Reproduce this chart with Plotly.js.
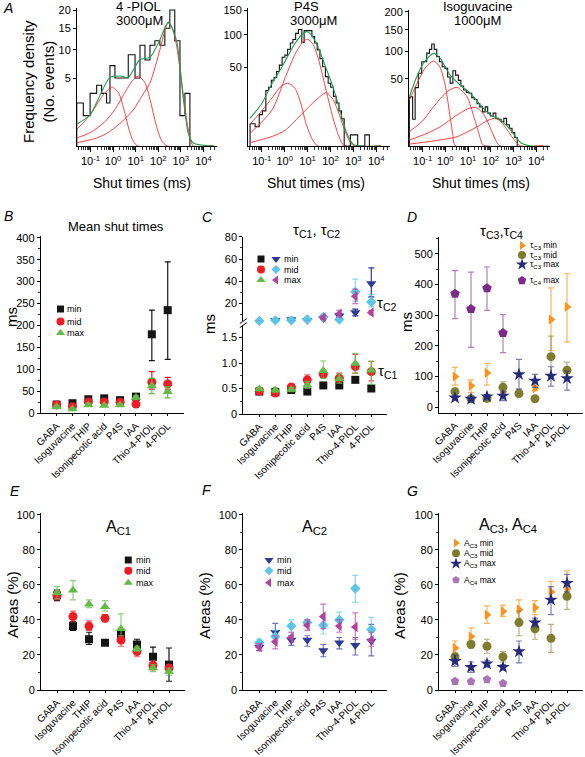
<!DOCTYPE html>
<html><head><meta charset="utf-8">
<script src="https://cdn.plot.ly/plotly-3.0.1.min.js"></script>
<style>html,body{margin:0;padding:0;background:#fff}#chart{width:585px;height:757px}</style>
</head><body><div id="chart"></div>
<script>
// ================= DATA =================
const cats = ['GABA','Isoguvacine','THIP','Isonipecotic acid','P4S','IAA','Thio-4-PIOL','4-PIOL'];

// ---- Panel A histograms: bin edges (log10 ms) and frequency densities ----
const piolEdges = [-1.61,-1.32,-1.02,-0.73,-0.51,-0.29,-0.14,0.08,0.67,0.97,1.19,1.41,1.63,1.85,2.07,2.29,2.51,2.73,2.96,3.18,3.40];
const piolCounts = [2,1,3,4,3,2,7,5,9,5,11,8,11,12,11,15,20,12,1,3];
const p4sEdges = [-1.51,-1.29,-1.11,-0.97,-0.82,-0.70,-0.58,-0.46,-0.35,-0.23,-0.11,0.01,0.13,0.25,0.36,0.48,0.60,0.75,0.85,1.00,1.19,1.31,1.42,1.54,1.66,1.78,1.90,2.01,2.13,2.25,2.37,2.48,2.60,2.87,3.19,3.50,3.70];
const p4sCounts = [4,3,8,10,25,28,35,38,45,53,64,67,76,86,92,103,110,87,108,108,97,86,75,62,51,39,32,28,20,15,10,6,0,1,0,1];
const isoEdges = [-1.585,-1.44,-1.33,-1.19,-1.04,-0.94,-0.82,-0.70,-0.60,-0.49,-0.38,-0.26,-0.14,-0.02,0.10,0.21,0.33,0.45,0.57,0.68,0.80,0.92,1.04,1.16,1.27,1.39,1.51,1.63,1.75,1.86,1.98,2.10,2.22,2.34,2.45,2.57,2.69,2.81,2.93,3.05,3.16];
const isoCounts = [27,8,38,59,79,79,96,104,116,104,89,79,70,67,53,44,63,56,48,40,35,32,31,26,24,20,17,13,17,12,10,12,8.5,8,6.6,8.5,5,3.5,2,0.8];

// ---- Panel A fitted curves: [log10 ms, density] ----
const piolFitC1 = [[-1.61,0.30],[-1.2,0.75],[-0.8,1.6],[-0.45,2.8],[-0.06,3.75],[0.25,3.0],[0.5,1.3],[0.72,0.25],[0.9,0.02],[1.1,0],[4.45,0]];
const piolFitC2 = [[-1.61,0.07],[-1.0,0.2],[-0.4,0.6],[0.1,1.5],[0.5,3.0],[0.85,4.6],[1.11,5.3],[1.4,4.4],[1.65,2.2],[1.9,0.5],[2.15,0.03],[2.4,0],[4.45,0]];
const piolFitC3 = [[-1.61,0.012],[-0.8,0.06],[-0.29,0.17],[0.3,0.55],[0.89,1.4],[1.3,2.8],[1.63,4.3],[2.07,10.0],[2.3,14.6],[2.44,16.4],[2.6,15.3],[2.8,11.2],[3.1,3.0],[3.33,0.3],[3.55,0],[4.45,0]];
const piolFitSum = [[-1.61,0.52],[-1.02,1.04],[-0.58,2.8],[-0.14,5.1],[0.31,5.3],[0.67,5.1],[1.19,8.1],[1.63,8.5],[2.07,12.2],[2.44,16.6],[2.8,12.2],[3.1,2.6],[3.33,0.17],[3.55,0.01],[4.45,0]];

const p4sFitC1 = [[-1.51,3.9],[-1.0,10],[-0.5,20],[-0.2,28],[0.13,32],[0.45,27],[0.7,15],[0.93,4.2],[1.2,0.4],[1.45,0],[4.2,0]];
const p4sFitC2 = [[-1.51,1.3],[-0.55,10.5],[0.04,39],[0.48,70],[0.8,88],[1.0,92.4],[1.22,85],[1.47,62],[1.66,40],[1.9,18],[2.15,5],[2.4,0.5],[2.6,0],[4.2,0]];
const p4sFitC3 = [[-1.51,0.09],[-0.5,0.8],[0.04,2.1],[0.78,8.7],[1.37,17.2],[1.81,23],[2.1,18],[2.3,11],[2.5,4.5],[2.7,1.0],[2.9,0.05],[3.05,0],[4.2,0]];
const p4sFitSum = [[-1.51,6.2],[-0.99,14.8],[-0.55,31.9],[-0.11,51],[0.41,82.8],[0.78,101.8],[1.0,106],[1.22,97],[1.51,74.8],[1.81,49],[2.1,29],[2.4,11],[2.69,1.66],[2.99,0.03],[3.2,0],[4.2,0]];

const isoFitC1 = [[-1.585,23.5],[-1.2,47],[-0.85,70],[-0.52,80.4],[-0.25,70],[0.0,40],[0.1,23.5],[0.32,1.8],[0.45,0],[4.3,0]];
const isoFitC2 = [[-1.585,2.3],[-1.0,7],[-0.52,17.2],[0.07,32.8],[0.51,38.3],[0.95,27],[1.25,9.6],[1.47,1.8],[1.63,0.03],[1.8,0],[4.3,0]];
const isoFitC3 = [[-1.585,0.4],[-0.8,1.8],[-0.23,4.1],[0.51,10.7],[1.0,15.5],[1.33,16.7],[1.65,12],[1.92,4.9],[2.21,0.4],[2.4,0],[4.3,0]];
const isoFitC4 = [[-1.585,0.04],[-0.5,0.3],[0.51,0.96],[1.39,4.1],[1.85,7.2],[2.17,8.5],[2.45,6.5],[2.72,2.85],[3.09,0.2],[3.31,0],[4.3,0]];
const isoFitSum = [[-1.585,27],[-1.26,53.4],[-0.97,76],[-0.52,95.6],[-0.23,85.6],[0.21,56],[0.65,41.4],[1.10,30.9],[1.54,18.7],[1.98,10.7],[2.42,7.5],[2.87,2.85],[3.31,0.12],[3.75,0],[4.55,0]];

const histDecades = [0.1,1,10,100,1000,10000];
const histDecadeText = ['10<sup>-1</sup>','10<sup>0</sup>','10<sup>1</sup>','10<sup>2</sup>','10<sup>3</sup>','10<sup>4</sup>'];
const piolYTicks = [5,10,15,20];
const p4sYTicks = [50,100,150];
const isoYTicks = [50,100,150,200];

// ---- Panel B: mean shut times (ms) ----
const bMin = [20,23,32,34,30,38,180,235];
const bMinHi = [22,26,36,38,33,42,235,345];
const bMinLo = [18,20,28,30,27,34,120,123];
const bMid = [19,15,26,26,25,21,71,67];
const bMidHi = [21,17,29,29,28,24,95,82];
const bMidLo = [17,13,23,23,22,18,55,55];
const bMax = [15,10,19,18,19,36,63,49];
const bMaxHi = [17,12,22,21,22,40,80,60];
const bMaxLo = [13,8,16,15,16,32,45,35];

// ---- Panel C: tauC1 (ms) ----
const c1Min = [0.44,0.43,0.47,0.44,0.56,0.56,0.67,0.50];
const c1MinHi = [0.47,0.46,0.50,0.47,0.59,0.59,0.71,0.54];
const c1MinLo = [0.41,0.40,0.44,0.41,0.53,0.53,0.63,0.46];
const c1Mid = [0.45,0.41,0.53,0.67,0.78,0.70,0.93,0.83];
const c1MidHi = [0.48,0.44,0.58,0.77,0.86,0.80,1.17,1.03];
const c1MidLo = [0.42,0.38,0.49,0.60,0.72,0.62,0.80,0.65];
const c1Max = [0.49,0.47,0.48,0.57,0.85,0.69,0.99,0.86];
const c1MaxHi = [0.52,0.52,0.52,0.64,1.04,0.78,1.19,1.03];
const c1MaxLo = [0.46,0.42,0.44,0.50,0.70,0.60,0.80,0.58];
// ---- Panel C: tauC2 (ms) ----
const c2Min = [4,5,5.7,5,6.6,9,12,38];
const c2MinHi = [5,6,7,6,8,11,15,52];
const c2MinLo = [3,4,4.5,4,5.5,7,9,26];
const c2Mid = [4.5,5,5,5.7,8,5.7,30.5,21.5];
const c2MidHi = [5.5,6,6,7,9.5,7,42,28];
const c2MidLo = [3.5,4,4,4.5,6.5,4.5,22,17];
const c2Max = [3,2.5,3,3,7.5,11,26.5,12];
const c2MaxHi = [4,3.5,4,4,9,14,33,14];
const c2MaxLo = [2,1.5,2,2,6,8,20,10];

// ---- Panel D: tauC3, tauC4 (ms) ----
const dC3Min = [100,70,112,51,45,62,286,327];
const dC3MinHi = [130,89,143,60,52,70,389,435];
const dC3MinLo = [72,48,72,42,38,54,185,213];
const dC3Mid = [51,28,29,65,45,28,165,121];
const dC3MidHi = [62,34,35,83,52,34,232,147];
const dC3MidLo = [42,22,24,47,38,22,100,95];
const dC3Max = [31,27,35,37,107,86,102,94];
const dC3MaxHi = [37,32,41,50,156,107,132,118];
const dC3MaxLo = [25,22,29,22,60,65,69,56];
const dC4Cats = ['GABA','Isoguvacine','THIP','Isonipecotic acid'];
const dC4Max = [370,320,388,242];
const dC4MaxHi = [445,440,457,302];
const dC4MaxLo = [289,195,316,178];

// ---- Panel E: AC1 (%) ----
const eMin = [54,36.5,29,27,31.5,26,19,14.5];
const eMinHi = [57,39,33,28.5,34,29,24.5,24];
const eMinLo = [51,34,26,25.5,29,23.5,14,5];
const eMid = [54,42,36.5,41,28.5,22,14,12.5];
const eMidHi = [56.5,45,39.5,43,31,24.5,16.5,14.5];
const eMidLo = [51.5,39,34,39,25,19,11.5,10.5];
const eMax = [55.5,57,49,47.5,35,23.5,12.5,10.5];
const eMaxHi = [59,62.5,51.5,51,43.5,25,14.5,12.5];
const eMaxLo = [52,51.5,47,45,31,22,10.5,8.5];

// ---- Panel F: AC2 (%) ----
const fMin = [24.5,33,28.5,28.5,22.5,27,25.5,28];
const fMinHi = [26.5,38,31,31,26,30,30,37.5];
const fMinLo = [22.5,28,25.5,25,19,23.5,20,19.5];
const fMid = [27,30.5,36.5,38.5,37,40,58,34.5];
const fMidHi = [29,34,40,40,41,44.5,65.5,41.5];
const fMidLo = [25,27,33,36.5,32,36,50,29];
const fMax = [24.5,27.5,30,37,42,36.5,36,28.5];
const fMaxHi = [26.5,31,33,40,49,40,44,33];
const fMaxLo = [22.5,23.5,27,34,35,33,29,25];

// ---- Panel G: AC3, AC4 (%) ----
const gC3Min = [24,30.5,43,45,46,47,56,57.5];
const gC3MinHi = [28,35.5,48,48.5,51.5,51,62,68];
const gC3MinLo = [21,27,38,42,41,43,52,54];
const gC3Mid = [19,26,25,19,38.5,35,29.5,53.5];
const gC3MidHi = [21,28,29,22,45,40,37.5,61];
const gC3MidLo = [16,24,21,16,31,29,21.5,46];
const gC3Max = [16.5,13,15,13,22,38.5,51.5,61];
const gC3MaxHi = [20,16,17,14.5,28,41,59,66];
const gC3MaxLo = [13.5,10,13,11.5,15.5,36,43,56];
const gC4Cats = ['GABA','Isoguvacine','THIP','Isonipecotic acid'];
const gC4Max = [5,4.8,6,3.8];

// ================= STYLE / LAYOUT =================
const W = 585, H = 757;
const dx = (a,b) => [a/W, b/W];
const dy = (t,b) => [1-b/H, 1-t/H];
const FONT = 'Liberation Sans, Arial, Helvetica, sans-serif';
const COL = {black:'#151515', red:'#ee1c25', green:'#63bb47', blue:'#2d3b96', cyan:'#5cc6e6', pink:'#b3429d',
  orange:'#f7931e', olive:'#7e7d2d', navy:'#252b7a', purple:'#7d2b8b', lpurple:'#aa74b4'};
function fade(hex, a){const n=parseInt(hex.slice(1),16);return 'rgba('+(n>>16&255)+','+(n>>8&255)+','+(n&255)+','+a+')';}

const minorVals = [];
for (let k=-2;k<=4;k++) for (let m=2;m<=9;m++) minorVals.push(m*Math.pow(10,k));

const axisBase = {showline:true, linecolor:'#000', linewidth:1, ticks:'outside', tickcolor:'#000', tickwidth:1,
  showgrid:false, zeroline:false, tickfont:{size:11, color:'#000', family:FONT}, fixedrange:true};
function histX(d, anchor){return Object.assign({}, axisBase, {type:'log', domain:dx(d[0],d[1]), anchor, range:[-1.6,4.6],
  ticklen:5, tickmode:'array', tickvals:histDecades, ticktext:histDecadeText,
  minor:{ticks:'outside', ticklen:3, tickwidth:0.8, tickcolor:'#000', tickmode:'array', tickvals:minorVals, showgrid:false}});}
function histY(d, anchor, top, vals){return Object.assign({}, axisBase, {domain:dy(d[0],d[1]), anchor, range:[0,top],
  ticklen:3, tickmode:'array', tickvals:vals.map(Math.sqrt), ticktext:vals.map(String)});}
function catX(d, anchor){return Object.assign({}, axisBase, {type:'category', categoryorder:'array', categoryarray:cats,
  domain:dx(d[0],d[1]), anchor, range:[-1,8], ticklen:2, tickangle:-45, tickfont:{size:10, color:'#000', family:FONT}});}
function valY(d, anchor, range, dtick, extra){return Object.assign({}, axisBase, {domain:dy(d[0],d[1]), anchor, range,
  ticklen:3, tick0:0, dtick, minor:{ticks:'outside', ticklen:2, tickwidth:0.8, tickcolor:'#000', tick0:0, dtick:dtick/2, showgrid:false}}, extra||{});}

// ================= TRACES =================
const traces = [];
function stepTrace(edges, counts, xa, ya){
  const x=[], y=[];
  x.push(Math.pow(10,edges[0])); y.push(0);
  counts.forEach((c,i)=>{ x.push(Math.pow(10,edges[i])); y.push(Math.sqrt(c)); x.push(Math.pow(10,edges[i+1])); y.push(Math.sqrt(c)); });
  x.push(Math.pow(10,edges[edges.length-1])); y.push(0);
  return {type:'scatter', mode:'lines', x, y, xaxis:xa, yaxis:ya, line:{color:'#111', width:1.1}, hoverinfo:'skip', showlegend:false};
}
function fitTrace(pairs, xa, ya, color, w){
  return {type:'scatter', mode:'lines', x:pairs.map(p=>Math.pow(10,p[0])), y:pairs.map(p=>Math.sqrt(p[1])), xaxis:xa, yaxis:ya,
    line:{color, width:w, shape:'spline', smoothing:0.7}, hoverinfo:'skip', showlegend:false};
}
function pts(xa, ya, xs, v, hi, lo, symbol, color, size, errColor){
  const t = {type:'scatter', mode:'markers', x:xs, y:v, xaxis:xa, yaxis:ya, cliponaxis:false,
    marker:{symbol, color, size, line:{width:0}}, hoverinfo:'skip', showlegend:false};
  if (hi) t.error_y = {type:'data', symmetric:false, array:hi.map((h,i)=>h-v[i]), arrayminus:lo.map((l,i)=>v[i]-l),
    color:errColor||color, thickness:1.2, width:3};
  return t;
}

// Panel A
const RED='#ff2a2a', GRN='#1e9e50';
traces.push(stepTrace(piolEdges, piolCounts, 'x', 'y'));
[piolFitC1,piolFitC2,piolFitC3].forEach(c=>traces.push(fitTrace(c,'x','y',RED,0.9)));
traces.push(fitTrace(piolFitSum,'x','y',GRN,1.1));
traces.push(stepTrace(p4sEdges, p4sCounts, 'x2', 'y2'));
[p4sFitC1,p4sFitC2,p4sFitC3].forEach(c=>traces.push(fitTrace(c,'x2','y2',RED,0.9)));
traces.push(fitTrace(p4sFitSum,'x2','y2',GRN,1.1));
traces.push(stepTrace(isoEdges, isoCounts, 'x3', 'y3'));
[isoFitC1,isoFitC2,isoFitC3,isoFitC4].forEach(c=>traces.push(fitTrace(c,'x3','y3',RED,0.9)));
traces.push(fitTrace(isoFitSum,'x3','y3',GRN,1.1));

// Panel B
traces.push(pts('x4','y4',cats,bMin,bMinHi,bMinLo,'square',COL.black,8));
traces.push(pts('x4','y4',cats,bMid,bMidHi,bMidLo,'circle',COL.red,9));
traces.push(pts('x4','y4',cats,bMax,bMaxHi,bMaxLo,'triangle-up',COL.green,9));
// Panel C
traces.push(pts('x5','y5',cats,c1Min,c1MinHi,c1MinLo,'square',COL.black,8));
traces.push(pts('x5','y5',cats,c1Mid,c1MidHi,c1MidLo,'circle',COL.red,9, fade(COL.red,0.7)));
traces.push(pts('x5','y5',cats,c1Max,c1MaxHi,c1MaxLo,'triangle-up',COL.green,9, fade(COL.green,0.7)));
traces.push(pts('x5','y6',cats,c2Min,c2MinHi,c2MinLo,'triangle-down',COL.blue,9));
traces.push(pts('x5','y6',cats,c2Mid,c2MidHi,c2MidLo,'diamond',COL.cyan,8, fade(COL.cyan,0.7)));
traces.push(pts('x5','y6',cats,c2Max,c2MaxHi,c2MaxLo,'triangle-left',COL.pink,9, fade(COL.pink,0.7)));
// Panel D
traces.push(pts('x6','y7',dC4Cats,dC4Max,dC4MaxHi,dC4MaxLo,'pentagon',COL.purple,10, fade(COL.purple,0.6)));
traces.push(pts('x6','y7',cats,dC3Min,dC3MinHi,dC3MinLo,'triangle-right',COL.orange,9, fade(COL.orange,0.7)));
traces.push(pts('x6','y7',cats,dC3Mid,dC3MidHi,dC3MidLo,'circle',COL.olive,9, fade(COL.olive,0.6)));
traces.push(pts('x6','y7',cats,dC3Max,dC3MaxHi,dC3MaxLo,'star',COL.navy,10, fade(COL.navy,0.6)));
// Panel E
traces.push(pts('x7','y8',cats,eMin,eMinHi,eMinLo,'square',COL.black,8));
traces.push(pts('x7','y8',cats,eMid,eMidHi,eMidLo,'circle',COL.red,9, fade(COL.red,0.7)));
traces.push(pts('x7','y8',cats,eMax,eMaxHi,eMaxLo,'triangle-up',COL.green,9, fade(COL.green,0.7)));
// Panel F
traces.push(pts('x8','y9',cats,fMin,fMinHi,fMinLo,'triangle-down',COL.blue,9, fade(COL.blue,0.7)));
traces.push(pts('x8','y9',cats,fMid,fMidHi,fMidLo,'diamond',COL.cyan,8, fade(COL.cyan,0.7)));
traces.push(pts('x8','y9',cats,fMax,fMaxHi,fMaxLo,'triangle-left',COL.pink,9, fade(COL.pink,0.7)));
// Panel G
traces.push(pts('x9','y10',cats,gC3Min,gC3MinHi,gC3MinLo,'triangle-right',COL.orange,9, fade(COL.orange,0.7)));
traces.push(pts('x9','y10',cats,gC3Mid,gC3MidHi,gC3MidLo,'circle',COL.olive,9, fade(COL.olive,0.6)));
traces.push(pts('x9','y10',cats,gC3Max,gC3MaxHi,gC3MaxLo,'star',COL.navy,10, fade(COL.navy,0.6)));
traces.push(pts('x9','y10',gC4Cats,gC4Max,null,null,'pentagon',COL.lpurple,9));

// Legend keys (overlay in page-pixel coordinates)
const annotations = [];
function key(x,y,symbol,color,size){traces.push({type:'scatter', mode:'markers', x:[x], y:[y], xaxis:'x10', yaxis:'y11',
  cliponaxis:false, marker:{symbol,color,size,line:{width:0}}, hoverinfo:'skip', showlegend:false});}
function txt(x,y,text,size,opts){annotations.push(Object.assign({xref:'x10', yref:'y11', x, y, text, showarrow:false,
  xanchor:'center', yanchor:'middle', borderpad:0, font:{size, color:'#000', family:FONT}}, opts||{}));}
const LF = 9, DF = 8.5;
// B
key(60.5,309,'square',COL.black,7); key(60.5,321.5,'circle',COL.red,8); key(60.5,333,'triangle-up',COL.green,8);
txt(66,309,'min',LF,{xanchor:'left'}); txt(66,321.5,'mid',LF,{xanchor:'left'}); txt(66,333,'max',LF,{xanchor:'left'});
// C
key(261,259,'square',COL.black,7); key(276,259,'triangle-down',COL.blue,8); txt(283,259,'min',LF,{xanchor:'left'});
key(261,269.5,'circle',COL.red,8); key(276,269.5,'diamond',COL.cyan,7); txt(283,269.5,'mid',LF,{xanchor:'left'});
key(261,280,'triangle-up',COL.green,8); key(276,280,'triangle-left',COL.pink,8); txt(283,280,'max',LF,{xanchor:'left'});
// D
key(522,245.5,'triangle-right',COL.orange,8); key(522,255,'circle',COL.olive,8); key(522,264.5,'star',COL.navy,9); key(522,280.5,'pentagon',COL.purple,9);
txt(528.5,245.5,'τ<sub>C3</sub> min',DF,{xanchor:'left'}); txt(528.5,255,'τ<sub>C3</sub> mid',DF,{xanchor:'left'});
txt(528.5,264.5,'τ<sub>C3</sub> max',DF,{xanchor:'left'}); txt(528.5,280.5,'τ<sub>C4</sub> max',DF,{xanchor:'left'});
// E
key(128.3,560,'square',COL.black,7); key(128.3,570.7,'circle',COL.red,8); key(128.3,582.7,'triangle-up',COL.green,8);
txt(135,560,'min',LF,{xanchor:'left'}); txt(135,570.7,'mid',LF,{xanchor:'left'}); txt(135,582.7,'max',LF,{xanchor:'left'});
// F
key(269,560,'triangle-down',COL.blue,8); key(269,570.7,'diamond',COL.cyan,7); key(269,582.7,'triangle-left',COL.pink,8);
txt(275.5,560,'min',LF,{xanchor:'left'}); txt(275.5,570.7,'mid',LF,{xanchor:'left'}); txt(275.5,582.7,'max',LF,{xanchor:'left'});
// G
key(456,543,'triangle-right',COL.orange,8); key(456,553.3,'circle',COL.olive,8); key(456,563.6,'star',COL.navy,9); key(456,580,'pentagon',COL.lpurple,8);
txt(463,543,'A<sub>C3</sub> min',DF,{xanchor:'left'}); txt(463,553.3,'A<sub>C3</sub> mid',DF,{xanchor:'left'});
txt(463,563.6,'A<sub>C3</sub> max',DF,{xanchor:'left'}); txt(463,580,'A<sub>C4</sub> max',DF,{xanchor:'left'});

// Texts
const it = {font:{size:14, color:'#000', family:FONT, style:'italic'}};
txt(8,8,'A',14,it); txt(8.5,216,'B',14,it); txt(207.5,217,'C',14,it); txt(412,217,'D',14,it);
txt(15,491,'E',14,it); txt(207,490,'F',14,it); txt(412,491,'G',14,it);
txt(138,6.5,'4 -PIOL',13); txt(139,20,'3000μM',13);
txt(306,6.5,'P4S',13); txt(313.5,20,'3000μM',13);
txt(477,6.5,'Isoguvacine',13); txt(477,20,'1000μM',13);
txt(141.5,183,'Shut times (ms)',14); txt(315.5,183,'Shut times (ms)',14); txt(480.5,183,'Shut times (ms)',14);
txt(38,82,'Frequency density<br>(No. events)',15,{textangle:-90});
txt(115.5,226.7,'Mean shut times',13);
txt(316,230,'τ<sub>C1</sub>, τ<sub>C2</sub>',15);
txt(501,231,'τ<sub>C3</sub>,τ<sub>C4</sub>',15);
txt(118,527,'A<sub>C1</sub>',16); txt(314,527,'A<sub>C2</sub>',16); txt(508,525,'A<sub>C3</sub>, A<sub>C4</sub>',16);
txt(11.5,317.5,'ms',15,{textangle:-90}); txt(209,324,'ms',15,{textangle:-90}); txt(406,322,'ms',15,{textangle:-90});
txt(12,605,'Areas (%)',15,{textangle:-90}); txt(204,606,'Areas (%)',15,{textangle:-90}); txt(399,606,'Areas (%)',15,{textangle:-90});
txt(376,303,'τ<sub>C2</sub>',15,{xanchor:'left'}); txt(377,371,'τ<sub>C1</sub>',15,{xanchor:'left'});

// y-axis break marks for panel C
const shapes = [
  {type:'line', xref:'x10', yref:'y11', x0:239.8, y0:323.6, x1:246.8, y1:318.6, line:{color:'#000', width:1}},
  {type:'line', xref:'x10', yref:'y11', x0:239.8, y0:327.6, x1:246.8, y1:322.6, line:{color:'#000', width:1}}
];

const layout = {
  width:W, height:H, margin:{l:0,r:0,t:0,b:0}, showlegend:false,
  paper_bgcolor:'#ffffff', plot_bgcolor:'rgba(0,0,0,0)',
  font:{family:FONT, size:11, color:'#000'},
  xaxis: histX([77,217],'y'), yaxis: histY([8,146],'x',4.54,piolYTicks),
  xaxis2: histX([248,390],'y2'), yaxis2: histY([8,146],'x2',12.43,p4sYTicks),
  xaxis3: histX([409,550],'y3'), yaxis3: histY([10,146],'x3',14.35,isoYTicks),
  xaxis4: catX([40.7,183.6],'y4'), yaxis4: valY([236,413.3],'x4',[0,404],50),
  xaxis5: catX([243.3,387.3],'y5'),
  yaxis5: valY([325,414],'x5',[0,1.745],0.5,{tickmode:'array', tickvals:[0,0.5,1,1.5], ticktext:['0','0.5','1.0','1.5'],
    minor:{ticks:'outside', ticklen:2, tickwidth:0.8, tickcolor:'#000', tickmode:'linear', tick0:0, dtick:0.25, showgrid:false}}),
  yaxis6: valY([236.5,321],'x5',[4.4,80.2],20),
  xaxis6: catX([439,583],'y7'), yaxis7: valY([237.3,412.7],'x6',[-17.6,553.7],100),
  xaxis7: catX([41,185],'y8'), yaxis8: valY([513,690],'x7',[0,101.1],20),
  xaxis8: catX([243.3,387.3],'y9'), yaxis9: valY([513,690],'x8',[0,101.1],20),
  xaxis9: catX([439,583],'y10'), yaxis10: valY([513,690],'x9',[0,101.1],20),
  xaxis10: {domain:[0,1], range:[0,W], visible:false, anchor:'y11', fixedrange:true},
  yaxis11: {domain:[0,1], range:[H,0], visible:false, anchor:'x10', fixedrange:true},
  annotations, shapes
};
Plotly.newPlot('chart', traces, layout, {staticPlot:true, displayModeBar:false});
</script></body></html>
